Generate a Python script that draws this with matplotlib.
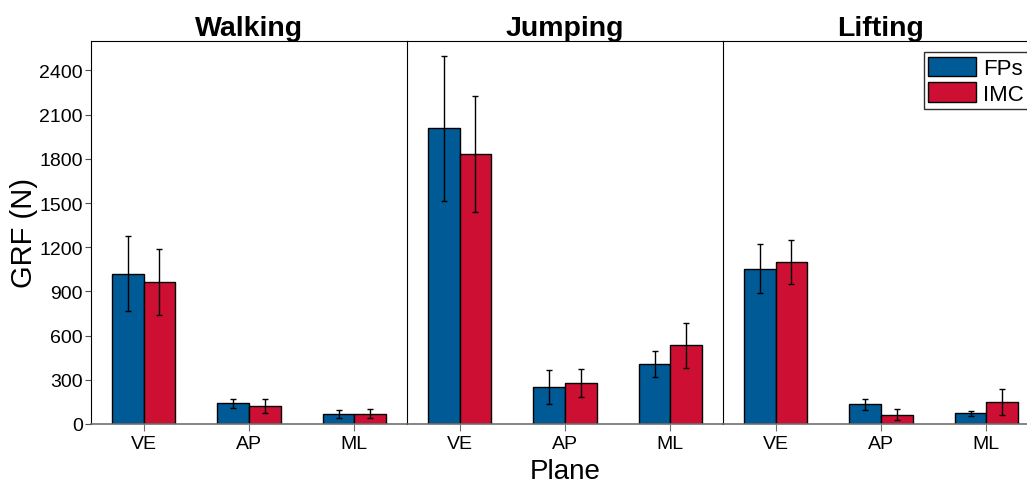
import numpy as np
import matplotlib
matplotlib.use("Agg")
from matplotlib import pyplot as plt

plt.rcParams['font.family'] = ['Liberation Sans', 'DejaVu Sans']

tasks = ['Walking', 'Jumping', 'Lifting']
planes = ['VE', 'AP', 'ML']

# mean GRF (N) per task, per plane
fp_mean = [[1020, 142, 66], [2007, 251, 407], [1053, 133, 72]]
fp_sd = [[255, 30, 28], [490, 118, 87], [167, 38, 15]]
imc_mean = [[963, 122, 70], [1835, 278, 536], [1098, 63, 149]]
imc_sd = [[225, 47, 30], [393, 96, 153], [150, 37, 86]]

c_fp = '#005a96'
c_imc = '#cc0f32'

fig = plt.figure(figsize=(10.27, 4.85), dpi=100)
W = 1027.0
H = 485.0
axes = []
for i in range(3):
    left = (91 + i * 316) / W
    ax = fig.add_axes([left, 1 - 425 / H, 316 / W, (425 - 42) / H])
    axes.append(ax)

x = np.arange(len(planes))
w = 0.3
for i, ax in enumerate(axes):
    ax.bar(x - w / 2, fp_mean[i], w, color=c_fp, edgecolor='black', linewidth=1,
           label='FPs', zorder=2)
    ax.bar(x + w / 2, imc_mean[i], w, color=c_imc, edgecolor='black', linewidth=1,
           label='IMC', zorder=2)
    ax.errorbar(x - w / 2, fp_mean[i], yerr=fp_sd[i], fmt='none', ecolor='black',
                elinewidth=1, capsize=2.5, capthick=1, zorder=3)
    ax.errorbar(x + w / 2, imc_mean[i], yerr=imc_sd[i], fmt='none', ecolor='black',
                elinewidth=1, capsize=2.5, capthick=1, zorder=3)
    ax.set_xlim(-0.5, 2.5)
    ax.set_ylim(0, 2600)
    ax.set_xticks(x)
    ax.set_xticklabels(planes, fontsize=14)
    ax.set_title(tasks[i], fontsize=20.5, fontweight='bold', pad=3)
    ax.spines['right'].set_visible(False)
    ax.spines['bottom'].set_color('#707070')
    ax.spines['bottom'].set_linewidth(1.2)
    ax.tick_params(axis='x', direction='out', length=5, color='#707070', pad=3)
    ax.set_yticks(np.arange(0, 2401, 300))
    if i == 0:
        ax.tick_params(axis='y', labelsize=14, length=4, color='#505050', pad=2)
        ax.set_ylabel('GRF (N)', fontsize=21, labelpad=1)
    else:
        ax.tick_params(axis='y', left=False, labelleft=False)
    if i == 1:
        ax.set_xlabel('Plane', fontsize=20, labelpad=4)

axes[2].legend(loc='upper right', fontsize=16, frameon=True, fancybox=False,
               edgecolor='#303030', handlelength=2.15, handleheight=1.0,
               borderpad=0.2, labelspacing=0.15, handletextpad=0.3,
               borderaxespad=0.5, framealpha=1)

fig.savefig('out.png', dpi=100)
